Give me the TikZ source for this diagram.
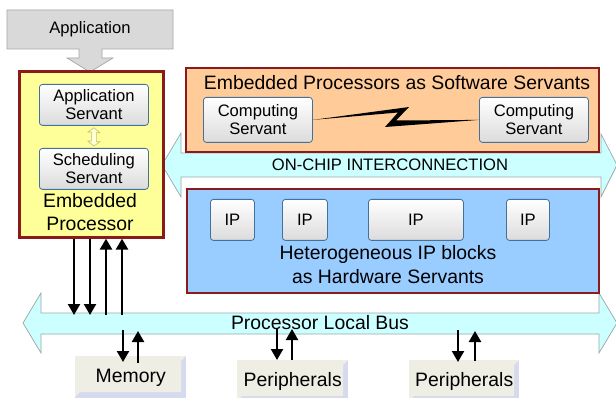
\documentclass[tikz,border=0pt]{standalone}
\usepackage{fontspec}
\setmainfont{Liberation Sans}
\usetikzlibrary{arrows.meta,calc}
\definecolor{appgray}{HTML}{D9D9D9}
\definecolor{appedge}{HTML}{A6A6A6}
\definecolor{procfill}{HTML}{FFFF99}
\definecolor{darkred}{HTML}{8B1A1A}
\definecolor{orfill}{HTML}{FFCC99}
\definecolor{blfill}{HTML}{99CCFF}
\definecolor{cyfill}{HTML}{CCFFFF}
\definecolor{cyedge}{HTML}{9AA8A8}
\definecolor{svedge}{HTML}{41719C}
\definecolor{memfill}{HTML}{EEEEE4}
\definecolor{membev}{HTML}{D6DAEE}
\definecolor{dblfill}{HTML}{FFFFD8}
\definecolor{dbledge}{HTML}{C8BC70}
\newcommand\fsmall{\fontsize{16.6}{19}\selectfont}
\newcommand\flarge{\fontsize{19.4}{23.5}\selectfont}
\tikzset{
  svbox/.style={draw=svedge, line width=0.8pt, rounded corners=3pt, top color=white, bottom color=black!14,
    anchor=north west, inner sep=0pt, align=center, font=\fsmall},
  bigbox/.style={draw=darkred, line width=1.8pt, anchor=north west, inner sep=0pt},
  cyarrow/.style={fill=cyfill, draw=cyedge, line width=0.7pt},
  bla/.style={line width=2.3pt, -{Triangle[length=11pt,width=12pt]}},
  lbl/.style={inner sep=0pt, align=center},
}
\newcommand\bevbox[4]{% x0,y0,x1,y1
  \fill[membev] (#1,#2) rectangle (#3,#4+6);
  \fill[memfill] (#1,#2) -- (#3,#2) -- (#3-5,#2+5) -- (#3-5,#4-4) -- (#1+5,#4-4) -- (#1,#4+1) -- cycle;
}
\begin{document}
\begin{tikzpicture}[x=1pt,y=-1pt]
\useasboundingbox (0,0) rectangle (616,398);
\fill[white] (0,0) rectangle (616,398);

% Application block arrow
\filldraw[fill=appgray, draw=appedge, line width=0.7pt]
  (7,10) -- (173,10) -- (173,49) -- (102,49) -- (102,58) -- (113,58) -- (90,72)
  -- (67,58) -- (79,58) -- (79,49) -- (7,49) -- cycle;
\node[lbl, font=\fsmall] (app) at (90,29) {Application};

% ON-CHIP interconnection
\filldraw[cyarrow] (162,165) -- (181,133) -- (181,153) -- (601,153) -- (601,134) -- (617,165)
  -- (601,197) -- (601,177) -- (181,177) -- (181,197) -- cycle;
\node[lbl, font=\fsmall] (onchip) at (390,165) {ON-CHIP INTERCONNECTION};

% Processor local bus
\filldraw[cyarrow] (23,323) -- (41,293) -- (41,313) -- (599,313) -- (599,293) -- (617,323)
  -- (599,353) -- (599,334) -- (41,334) -- (41,353) -- cycle;

% Embedded processor
\node[bigbox, fill=procfill, line width=2.6pt, minimum width=144pt, minimum height=166pt] (proc) at (18,70) {};
\node[svbox, minimum width=109pt, minimum height=41pt] (appserv) at (39,84) {Application\\[-1pt]Servant};
\node[svbox, minimum width=109pt, minimum height=41pt] (schedserv) at (39,148) {Scheduling\\[-1pt]Servant};
\filldraw[fill=dblfill, draw=dbledge, line width=0.6pt]
  ($(appserv.south)+(0,2)$) -- ++(6,5) -- ++(-3.5,0) -- ++(0,9) -- ++(3.5,0) -- ($(schedserv.north)+(0,-2)$)
  -- ++(-6,-5) -- ++(3.5,0) -- ++(0,-9) -- ++(-3.5,0) -- cycle;
\node[lbl, font=\flarge, text=black] (proclbl) at (90,212) {Embedded\\Processor};

% Software servants
\node[bigbox, fill=orfill, minimum width=413pt, minimum height=84pt] (sw) at (185,67) {};
\node[lbl, font=\flarge] (swlbl) at (397,83) {Embedded Processors as Software Servants};
\node[svbox, minimum width=109pt, minimum height=45pt] (comp1) at (203,97) {Computing\\[-1pt]Servant};
\node[svbox, minimum width=109pt, minimum height=45pt] (comp2) at (479,97) {Computing\\[-1pt]Servant};
\fill[black] (comp1.east) -- (409,107) -- (396,120.5) -- (comp2.west) -- (385,127) -- (398,112.5) -- cycle;

% Hardware servants
\node[bigbox, fill=blfill, minimum width=412pt, minimum height=104pt] (hw) at (186,188) {};
\node[svbox, minimum width=44pt, minimum height=41pt] (ip1) at (210,199) {IP};
\node[svbox, minimum width=45pt, minimum height=41pt] (ip2) at (282,199) {IP};
\node[svbox, minimum width=95pt, minimum height=41pt] (ip3) at (368,199) {IP};
\node[svbox, minimum width=43pt, minimum height=41pt] (ip4) at (506,199) {IP};
\node[lbl, font=\flarge] (hwlbl) at (388,264.5) {Heterogeneous IP blocks\\as Hardware Servants};

% Bottom boxes
\bevbox{75}{356}{186}{396}
\bevbox{237}{360}{348}{400}
\bevbox{409}{360}{519}{400}
\node[lbl, font=\flarge, minimum width=111pt, minimum height=44pt, anchor=north west] (mem) at (75,356) {Memory};
\node[lbl, font=\flarge, minimum width=111pt, minimum height=42pt, anchor=north west] (per1) at (237,360) {Peripherals};
\node[lbl, font=\flarge, minimum width=110pt, minimum height=42pt, anchor=north west] (per2) at (409,360) {Peripherals};

\node[lbl, font=\flarge] (buslbl) at (320,323) {Processor Local Bus};

% Processor <-> bus arrows
\coordinate (pa) at (74,315);
\coordinate (pb) at (90,315);
\coordinate (pc) at (106,315);
\coordinate (pd) at (122,315);
\draw[bla] (proc.south -| pa) -- (pa);
\draw[bla] (proc.south -| pb) -- (pb);
\draw[bla] (pc) -- (proc.south -| pc);
\draw[bla] (pd) -- (proc.south -| pd);

% Memory arrows
\coordinate (ma) at (123,330);
\coordinate (mb) at (138,331);
\draw[bla] (ma) -- ($(mem.north -| ma)+(0,6)$);
\draw[bla] ($(mem.north -| mb)+(0,7)$) -- (mb);

% Peripheral arrows
\coordinate (qa) at (277,328);
\coordinate (qb) at (292,329);
\draw[bla] (qa) -- (per1.north -| qa);
\draw[bla] (per1.north -| qb) -- (qb);
\coordinate (ra) at (458,330);
\coordinate (rb) at (475,331);
\draw[bla] (ra) -- ($(per2.north -| ra)+(0,2)$);
\draw[bla] ($(per2.north -| rb)+(0,1)$) -- (rb);
\end{tikzpicture}
\end{document}
